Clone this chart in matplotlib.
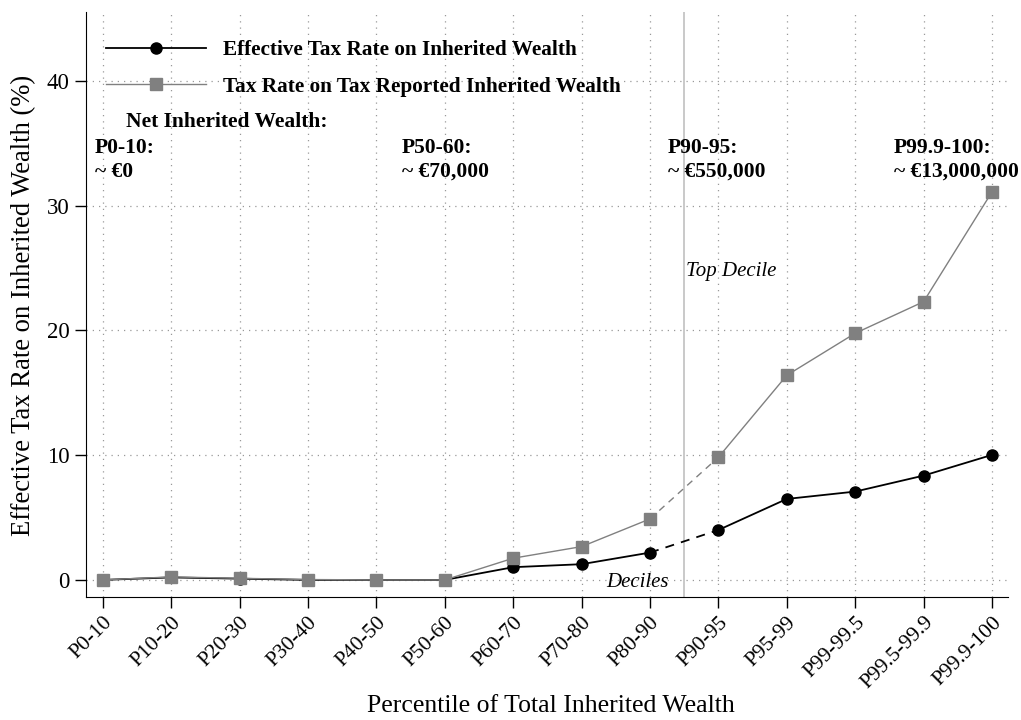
import matplotlib
matplotlib.use('agg')
import matplotlib.pyplot as plt
from matplotlib.lines import Line2D

groups = ['P0-10', 'P10-20', 'P20-30', 'P30-40', 'P40-50', 'P50-60', 'P60-70',
          'P70-80', 'P80-90', 'P90-95', 'P95-99', 'P99-99.5', 'P99.5-99.9', 'P99.9-100']
effective_rate = [0.0, 0.2, 0.1, 0.0, 0.0, 0.0, 1.02, 1.26, 2.19,
                  4.0, 6.49, 7.08, 8.36, 10.02]
reported_rate = [0.0, 0.24, 0.13, 0.03, 0.0, 0.0, 1.74, 2.67, 4.89,
                 9.83, 16.4, 19.77, 22.3, 31.1]
# (x position, group, approximate net inherited wealth)
wealth_notes = [(-0.12, 'P0-10:', '~ €0'), (4.37, 'P50-60:', '~ €70,000'),
                (8.26, 'P90-95:', '~ €550,000'), (11.56, 'P99.9-100:', '~ €13,000,000')]

plt.rcParams['font.family'] = ['Liberation Serif', 'DejaVu Serif']

fig = plt.figure(figsize=(10.21, 7.2), dpi=100)
ax = fig.add_axes([0.084, 0.171, 0.903, 0.812])
x = list(range(len(groups)))
split = groups.index('P80-90')


def draw_series(vals, color, marker, ms, lw):
    # solid within deciles and top decile, dashed across the break
    ax.plot(x[:split + 1], vals[:split + 1], color=color, lw=lw)
    ax.plot(x[split:split + 2], vals[split:split + 2], color=color, lw=lw, ls=(0, (5, 4)))
    ax.plot(x[split + 1:], vals[split + 1:], color=color, lw=lw)
    ax.plot(x, vals, ls='none', marker=marker, color=color, ms=ms)


draw_series(effective_rate, 'black', 'o', 8, 1.3)
draw_series(reported_rate, '#808080', 's', 8, 1.0)

ax.axvline(split + 0.5, color='#c0c0c0', lw=1.2, zorder=0)

ax.set_xlim(-0.25, 13.23)
ax.set_ylim(-1.36, 45.5)
ax.set_yticks([0, 10, 20, 30, 40])
ax.set_xticks(x)
ax.set_xticklabels(groups, rotation=45, ha='right', rotation_mode='anchor', fontsize=15.5)
ax.tick_params(axis='y', labelsize=16.5, length=8, width=1)
ax.tick_params(axis='x', length=8, width=1)
ax.grid(True, ls=(0, (1, 4)), color='#999999', lw=0.9)
ax.set_axisbelow(True)
for side in ['top', 'right']:
    ax.spines[side].set_visible(False)

fig.text(0.0235, 0.576, 'Effective Tax Rate on Inherited Wealth (%)', fontsize=19.2,
         rotation=90, ha='center', va='center')
fig.text(0.54, 0.019, 'Percentile of Total Inherited Wealth', fontsize=18.5,
         ha='center', va='center')

handles = [Line2D([], [], color='black', marker='o', ms=8, lw=1.3),
           Line2D([], [], color='#808080', marker='s', ms=8, lw=1.0)]
ax.legend(handles, ['Effective Tax Rate on Inherited Wealth',
                    'Tax Rate on Tax Reported Inherited Wealth'],
          loc='upper left', frameon=False, handlelength=4.7, handletextpad=0.8,
          prop={'weight': 'bold', 'size': 15.3}, labelspacing=0.78,
          bbox_to_anchor=(0.0125, 0.967), borderaxespad=0)

ax.text(0.34, 36.7, 'Net Inherited Wealth:', fontsize=15.5, fontweight='bold', va='center')
for xpos, head, val in wealth_notes:
    ax.text(xpos, 34.6, head, fontsize=15.5, fontweight='bold', va='center')
    ax.text(xpos, 32.7, val, fontsize=15.5, fontweight='bold', va='center')

ax.text(split + 0.53, 24.7, 'Top Decile', fontsize=15, style='italic', va='center')
ax.text(split + 0.28, -0.2, 'Deciles', fontsize=15, style='italic', ha='right', va='center')

fig.savefig('out.png', dpi=100)
